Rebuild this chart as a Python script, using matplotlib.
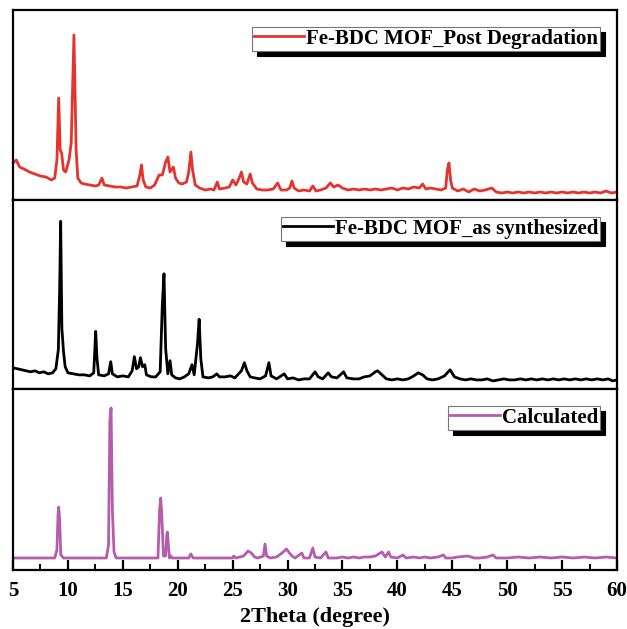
import matplotlib
matplotlib.use("Agg")
import matplotlib.pyplot as plt
from matplotlib.ticker import MultipleLocator

plt.rcParams['font.family'] = ['Liberation Serif', 'DejaVu Serif']
plt.rcParams['font.weight'] = 'bold'

# Fe-BDC MOF post degradation (arbitrary intensity units)
post_x = [5.0, 5.3, 5.6, 6.0, 6.5, 7.0, 7.5, 8.0, 8.5, 8.8, 9.0, 9.16, 9.3, 9.43, 9.6, 9.8,
          10.1, 10.3, 10.45, 10.55, 10.65, 10.75, 10.9, 11.2, 11.5, 12.0, 12.5, 12.8, 13.1, 13.3,
          13.8, 14.3, 14.8, 15.3, 15.8, 16.3, 16.55, 16.7, 16.85, 17.1, 17.5, 17.9, 18.3, 18.6,
          18.9, 19.1, 19.3, 19.6, 19.8, 20.1, 20.4, 20.8, 21.0, 21.2, 21.35, 21.6, 22.0, 22.5,
          23.0, 23.3, 23.6, 23.8, 24.3, 24.7, 25.0, 25.3, 25.6, 25.8, 26.0, 26.3, 26.6, 26.8,
          27.2, 27.7, 28.2, 28.7, 29.1, 29.4, 29.9, 30.2, 30.4, 30.6, 31.0, 31.5, 32.0, 32.3,
          32.6, 33.0, 33.5, 33.9, 34.2, 34.6, 35.0, 35.5, 36.0, 36.5, 37.0, 37.5, 38.0, 38.5,
          39.0, 39.5, 40.0, 40.5, 41.0, 41.5, 42.0, 42.3, 42.6, 43.0, 43.5, 44.0, 44.4, 44.55,
          44.7, 44.85, 45.0, 45.5, 46.0, 46.5, 47.0, 47.5, 48.0, 48.6, 49.0, 49.5, 50.0, 50.5,
          51.0, 51.5, 52.0, 52.5, 53.0, 53.5, 54.0, 54.5, 55.0, 55.5, 56.0, 56.5, 57.0, 57.5,
          58.0, 58.5, 59.0, 59.5, 60.0]
post_y = [37, 40, 33, 31, 28, 26, 24, 23, 20, 22, 40, 102, 50, 47, 30, 28,
          40, 57, 120, 165, 110, 50, 22, 17, 16, 15, 14, 15, 22, 15,
          14, 13, 13, 12, 13, 14, 25, 35, 20, 13, 12, 15, 25, 25,
          38, 43, 28, 33, 22, 17, 16, 18, 28, 48, 30, 15, 12, 10,
          11, 10, 18, 11, 12, 13, 20, 15, 22, 28, 18, 16, 26, 17,
          11, 10, 10, 11, 17, 10, 10, 12, 19, 12, 9, 10, 9, 14,
          9, 10, 12, 17, 13, 15, 12, 10, 11, 10, 11, 10, 11, 10,
          11, 12, 10, 12, 11, 13, 12, 16, 11, 12, 11, 10, 12, 30,
          37, 20, 12, 9, 11, 8, 11, 9, 10, 12, 8, 7, 8, 7,
          8, 7, 8, 7, 8, 7, 8, 7, 8, 7, 8, 7, 8, 7,
          8, 7, 9, 7, 8]

# Fe-BDC MOF as synthesized
syn_x = [5.0, 5.4, 5.8, 6.2, 6.6, 7.0, 7.4, 7.8, 8.2, 8.6, 8.9, 9.13, 9.25, 9.34, 9.45, 9.6,
         9.75, 10.0, 10.5, 11.0, 11.5, 12.0, 12.35, 12.45, 12.53, 12.65, 12.8, 13.3, 13.7, 13.9,
         14.05, 14.5, 15.0, 15.5, 15.85, 16.05, 16.25, 16.45, 16.6, 16.8, 17.0, 17.15, 17.6, 18.0,
         18.4, 18.6, 18.75, 18.9, 19.1, 19.3, 19.45, 19.8, 20.2, 20.6, 21.0, 21.3, 21.5, 21.8,
         21.95, 22.1, 22.3, 22.8, 23.2, 23.55, 23.8, 24.3, 24.8, 25.2, 25.8, 26.07, 26.3, 26.6,
         27.0, 27.5, 28.0, 28.3, 28.5, 29.0, 29.7, 30.0, 30.5, 31.0, 31.5, 32.0, 32.5, 32.8,
         33.2, 33.7, 34.0, 34.5, 35.1, 35.4, 36.0, 36.5, 37.0, 37.5, 38.0, 38.2, 38.5, 39.0,
         39.5, 40.0, 40.5, 41.0, 41.5, 41.9, 42.3, 42.7, 43.2, 43.7, 44.3, 44.8, 45.2, 45.7,
         46.2, 46.7, 47.2, 47.7, 48.2, 48.7, 49.2, 49.7, 50.2, 50.7, 51.2, 51.7, 52.2, 52.7,
         53.2, 53.7, 54.2, 54.7, 55.2, 55.7, 56.2, 56.7, 57.2, 57.7, 58.2, 58.7, 59.2, 59.6, 60.0]
syn_y = [21, 20, 19, 18, 17, 18, 16, 17, 15, 16, 20, 39, 100, 166, 60, 37,
         22, 16, 15, 14, 14, 13, 16, 40, 57, 30, 14, 13, 15, 27,
         15, 12, 13, 12, 18, 32, 20, 22, 31, 22, 24, 14, 12, 12,
         17, 84, 114, 40, 15, 28, 14, 11, 10, 12, 15, 24, 14, 45,
         69, 30, 12, 11, 12, 15, 12, 12, 13, 11, 18, 26, 18, 12,
         11, 10, 13, 26, 13, 10, 15, 10, 11, 9, 10, 10, 17, 12,
         10, 16, 12, 11, 17, 11, 10, 10, 12, 13, 17, 18, 15, 10,
         9, 10, 9, 10, 13, 16, 14, 10, 9, 10, 13, 19, 12, 10,
         9, 10, 9, 9, 10, 8, 9, 10, 9, 9, 10, 9, 10, 9,
         10, 9, 10, 9, 10, 9, 10, 9, 10, 9, 10, 9, 10, 8, 9]

# Calculated pattern
calc_x = [5.0, 8.8, 9.0, 9.1, 9.16, 9.25, 9.35, 9.6, 13.5, 13.7, 13.82, 13.93, 14.05, 14.2, 14.4,
          18.2, 18.35, 18.45, 18.55, 18.7, 18.9, 19.0, 19.06, 19.15, 19.25, 19.37, 19.5, 21.0,
          21.2, 21.4, 25.0, 25.1, 25.3, 26.0, 26.4, 26.7, 27.0, 27.3, 27.8, 27.95, 28.1, 28.4,
          29.0, 29.5, 29.9, 30.1, 30.4, 30.7, 31.3, 31.5, 32.0, 32.3, 32.5, 33.0, 33.5, 33.7,
          34.5, 35.0, 35.5, 36.0, 36.5, 37.0, 37.5, 38.0, 38.6, 38.9, 39.2, 39.4, 40.0, 40.5,
          40.8, 41.5, 42.0, 42.5, 43.0, 43.7, 44.2, 44.4, 45.0, 45.5, 46.4, 47.0, 47.5, 48.2,
          48.7, 49.0, 50.0, 51.0, 52.0, 53.0, 54.0, 55.0, 56.0, 57.0, 58.0, 59.0, 60.0]
calc_y = [12, 12, 20, 55, 63, 50, 15, 12, 12, 25, 150, 162, 60, 18, 12,
          12, 60, 72, 55, 14, 14, 35, 38, 25, 12, 14, 12, 12,
          16, 12, 12, 14, 12, 14, 19, 17, 13, 12, 14, 26, 14, 12,
          13, 17, 21, 18, 14, 12, 17, 12, 12, 22, 13, 12, 18, 12,
          12, 13, 12, 13, 12, 13, 13, 14, 18, 13, 18, 13, 12, 15,
          12, 13, 12, 13, 12, 13, 15, 12, 12, 13, 14, 12, 12, 13,
          15, 12, 12, 13, 12, 13, 12, 13, 12, 13, 12, 13, 12]

panels = [
    (post_x, post_y, '#e5332e', 'Fe-BDC MOF_Post Degradation', 190),
    (syn_x, syn_y, '#000000', 'Fe-BDC MOF_as synthesized', 187),
    (calc_x, calc_y, '#b65cae', 'Calculated', 181),
]

fig = plt.figure(figsize=(6.27, 6.29), dpi=100)
W, H = 627, 629
bounds = [(10, 200), (200, 389), (389, 570)]
axes = []
for (top, bot), (xs, ys, col, lab, ymax) in zip(bounds, panels):
    ax = fig.add_axes([13 / W, 1 - bot / H, (617 - 13) / W, (bot - top) / H])
    ax.plot(xs, ys, color=col, lw=2.0, label=lab)
    ax.set_xlim(5, 60)
    ax.set_ylim(0, ymax)
    ax.set_yticks([])
    for s in ax.spines.values():
        s.set_linewidth(1.6)
    leg = ax.legend(loc='upper right', fontsize=15, handlelength=2.4, handletextpad=0.1,
                    borderpad=0.1, borderaxespad=0.8, fancybox=True, framealpha=1,
                    shadow={'color': 'black', 'alpha': 1, 'ox': 3.5, 'oy': -3.5})
    frame = leg.get_frame()
    frame.set_boxstyle('square', pad=0)
    frame.set_edgecolor('#777777')
    frame.set_linewidth(0.8)
    axes.append(ax)

for ax in axes[:2]:
    ax.set_xticks([])

ax = axes[2]
ax.xaxis.set_major_locator(MultipleLocator(5))
ax.xaxis.set_minor_locator(MultipleLocator(2.5))
ax.tick_params(axis='x', which='major', direction='in', length=7, width=1.6, labelsize=15, pad=8)
ax.tick_params(axis='x', which='minor', direction='in', length=4, width=1.4)
for t in ax.get_xticklabels():
    t.set_fontweight('bold')
ax.set_xlabel('2Theta (degree)', fontsize=16, fontweight='bold', labelpad=4)

fig.savefig('out.png', dpi=100)
